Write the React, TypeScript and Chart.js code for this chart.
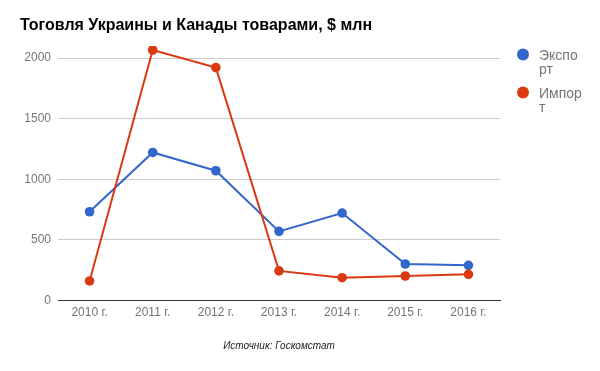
import React, { useEffect, useRef } from "react";
import { Chart, registerables } from "chart.js";

Chart.register(...registerables);

const titleText = "Тоговля Украины и Канады товарами, $ млн";
const sourceText = "Источник: Госкомстат";
const categories = ["2010 г.", "2011 г.", "2012 г.", "2013 г.", "2014 г.", "2015 г.", "2016 г."];
const exportValues = [733, 1222, 1071, 571, 722, 302, 291];
const importValues = [162, 2067, 1922, 245, 189, 203, 217];
const yTicks = [0, 500, 1000, 1500, 2000];
const legendItems = [
  { lines: ["Экспо", "рт"], color: "#3366cc" },
  { lines: ["Импор", "т"], color: "#dc3912" },
];

const FONT = "Arial, 'Liberation Sans', sans-serif";

const overlayPlugin = {
  id: "overlay",
  afterDraw(chart: any) {
    const ctx = chart.ctx;
    ctx.save();
    ctx.fillStyle = "#000";
    ctx.font = `bold 16px ${FONT}`;
    ctx.textAlign = "left";
    ctx.textBaseline = "alphabetic";
    ctx.fillText(titleText, 20, 30);

    const baselines = [60, 98];
    legendItems.forEach((item, i) => {
      const b = baselines[i];
      ctx.beginPath();
      ctx.fillStyle = item.color;
      ctx.arc(523, b - 5.5, 6, 0, Math.PI * 2);
      ctx.fill();
      ctx.fillStyle = "#757575";
      ctx.font = `14px ${FONT}`;
      item.lines.forEach((ln, j) => {
        ctx.fillText(ln, 539, b + j * 14);
      });
    });
    ctx.restore();
  },
};

export default function App() {
  const ref = useRef<HTMLCanvasElement>(null);
  useEffect(() => {
    document.body.style.margin = "0";
    const chart = new Chart(ref.current!, {
      type: "line",
      data: {
        labels: categories,
        datasets: [
          {
            label: "Экспорт",
            data: exportValues,
            borderColor: "#3366cc",
            backgroundColor: "#3366cc",
            pointBackgroundColor: "#3366cc",
            borderWidth: 2,
            pointRadius: 4.8,
            pointBorderWidth: 0,
            tension: 0,
            order: 1,
            clip: 0,
          },
          {
            label: "Импорт",
            data: importValues,
            borderColor: "#dc3912",
            backgroundColor: "#dc3912",
            pointBackgroundColor: "#dc3912",
            borderWidth: 2,
            pointRadius: 4.8,
            pointBorderWidth: 0,
            tension: 0,
            order: 0,
            clip: 0,
          },
        ],
      },
      options: {
        animation: false,
        responsive: false,
        events: [],
        layout: { padding: { top: 46, right: 100, bottom: 19, left: 0 } },
        plugins: {
          legend: { display: false },
          title: { display: false },
          tooltip: { enabled: false },
        },
        scales: {
          x: {
            type: "category",
            offset: true,
            grid: { display: false, drawTicks: false },
            border: { display: true, color: "#333", width: 1 },
            ticks: { color: "#757575", font: { family: FONT, size: 12 }, padding: 5, maxRotation: 0 },
            title: {
              display: true,
              text: sourceText,
              color: "#222",
              font: { family: FONT, size: 10, style: "italic" },
              padding: { top: 15, bottom: 0 },
            },
          },
          y: {
            min: 0,
            max: 2100,
            afterBuildTicks: (scale: any) => {
              scale.ticks = yTicks.map((v) => ({ value: v }));
            },
            afterFit: (scale: any) => {
              scale.width = 58;
            },
            grid: {
              color: (c: any) => (c.tick && c.tick.value === 0 ? "rgba(0,0,0,0)" : "#cccccc"),
              drawTicks: false,
              lineWidth: 1,
            },
            border: { display: false },
            ticks: {
              color: "#757575",
              font: { family: FONT, size: 12 },
              padding: 7,
              callback: (v: any) => String(v),
            },
          },
        },
      },
      plugins: [overlayPlugin],
    });
    return () => chart.destroy();
  }, []);
  return <canvas ref={ref} width={600} height={371} style={{ display: "block" }} />;
}
